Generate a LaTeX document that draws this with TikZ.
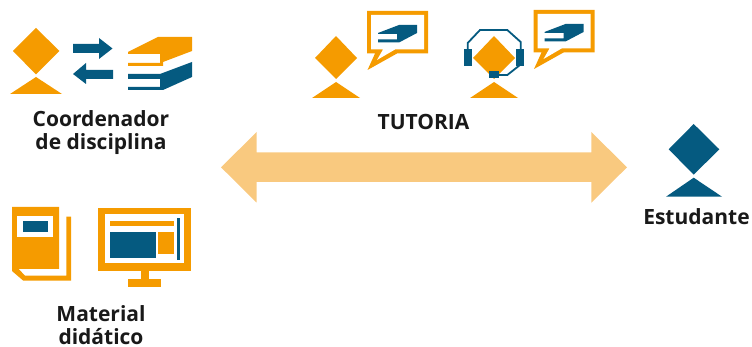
\documentclass[tikz,border=0pt]{standalone}
\usepackage{fontspec}
\setmainfont{Open Sans}

\definecolor{laranja}{HTML}{F59B00}
\definecolor{azul}{HTML}{055A80}
\definecolor{seta}{HTML}{F9C97F}

\tikzset{
    rotulo/.style={font=\fontsize{21}{23.5}\selectfont\bfseries, text=black!90, align=center, inner sep=0pt, anchor=base},
}

\begin{document}
\begin{tikzpicture}[x=1pt, y=-1pt]
    \useasboundingbox (0,0) rectangle (752,347);
    % Coordenador
    \fill[laranja] (13,51) -- (36,28) -- (59.5,51) -- (36,74.5) -- cycle;
    \fill[laranja] (36,77) -- (62,94) -- (10,94) -- cycle;
    \fill[azul] (73,44) -- (99,44) -- (99,38) -- (112.5,48.5) -- (99,59) -- (99,53) -- (73,53) -- cycle;
    \fill[azul] (113,70) -- (86,70) -- (86,63) -- (73,74) -- (86,84) -- (86,79) -- (113,79) -- cycle;
    \fill[laranja] (128,52) -- (158,37) -- (192,37) -- (192,51) -- (163,62) -- (163,66) -- (128,66) -- (128,63) -- (160,63) -- (160,54) -- (128,54) -- cycle;
    \fill[azul] (128,74) -- (160,74) -- (192,62) -- (192,77) -- (163,90) -- (128,90) -- (128,87) -- (160,87) -- (160,79) -- (128,79) -- cycle;
    \node[rotulo] (coord) at (101,150) {Coordenador\\de disciplina};
    % Tutor
    \fill[laranja] (315,58) -- (336,36) -- (357,58) -- (336,79) -- cycle;
    \fill[laranja] (336,82) -- (360,98) -- (312,98) -- cycle;
    % Tutor com fone
    \fill[laranja] (473,58) -- (494,36) -- (515,58) -- (494,79) -- cycle;
    \fill[laranja] (494,82) -- (518,98) -- (470,98) -- cycle;
    \draw[azul, line width=1.8pt] (467.7,50) -- (467.7,43) -- (480,30) -- (507.3,30) -- (520.7,42) -- (520.7,50);
    \draw[azul, line width=1.8pt] (520,65) -- (507.3,75) -- (498,75);
    \fill[azul] (464,49.3) rectangle (471.7,65.7);
    \fill[azul] (516,49.3) rectangle (524,65.7);
    \fill[azul] (489,71) rectangle (499,77.7);
    % Baloes
    \foreach \dx/\dy in {0/0, 166.5/-1} {
        \begin{scope}[shift={(\dx,\dy)}]
            \fill[laranja] (367,11) -- (428,11) -- (428,53.5) -- (397,53.5) -- (367.5,70) -- (375,53.5) -- (367,53.5) -- cycle;
            \fill[white] (371,15) -- (424,15) -- (424,49.5) -- (395,49.5) -- (377,60) -- (383,49.5) -- (371,49.5) -- cycle;
            \fill[azul] (378,33) -- (399,25) -- (417,25) -- (417,33) -- (399,42.5) -- (378,42.5) -- (378,39.5) -- (397,39.5) -- (397,34) -- (378,34) -- cycle;
        \end{scope}
    }
    \node[rotulo] (tutoria) at (423.5,130) {TUTORIA};
    % Seta dupla
    \fill[seta] (221,167.3) -- (256.7,132) -- (256.7,152.3) -- (591.3,152.3) -- (591.3,132) -- (627,167.3) -- (591.3,202.7) -- (591.3,182) -- (256.7,182) -- (256.7,202.7) -- cycle;
    % Estudante
    \fill[azul] (668.7,149.3) -- (693.7,124) -- (719.3,149.3) -- (693.7,174.7) -- cycle;
    \fill[azul] (693.7,177.7) -- (722,196.7) -- (666,196.7) -- cycle;
    \node[rotulo] (estudante) at (696.5,225) {Estudante};
    % Livro
    \fill[laranja] (12,207) -- (59,207) -- (59,269) -- (18.7,269) -- (25,275.7) -- (66.3,275.7) -- (66.3,216.7) -- (71,216.7) -- (71,280.7) -- (23.3,280.7) -- (12,271) -- cycle;
    \fill[white] (17.3,215.7) rectangle (53.3,237.3);
    \fill[azul] (23,221) rectangle (48,232);
    % Monitor
    \fill[laranja] (98.3,207.7) rectangle (191.3,270.7);
    \fill[white] (105.3,214.3) rectangle (184.3,263.3);
    \fill[laranja] (140.7,270.7) rectangle (149.3,279);
    \fill[laranja] (128.3,279) rectangle (161.3,287);
    \fill[laranja] (110,221) rectangle (174,226);
    \fill[azul] (177,218) rectangle (180,260);
    \fill[azul] (110,232) rectangle (156,258);
    \fill[laranja] (158,232) rectangle (174,254);
    \node[rotulo] (material) at (101,344.5) {Material\\didático};
\end{tikzpicture}
\end{document}
